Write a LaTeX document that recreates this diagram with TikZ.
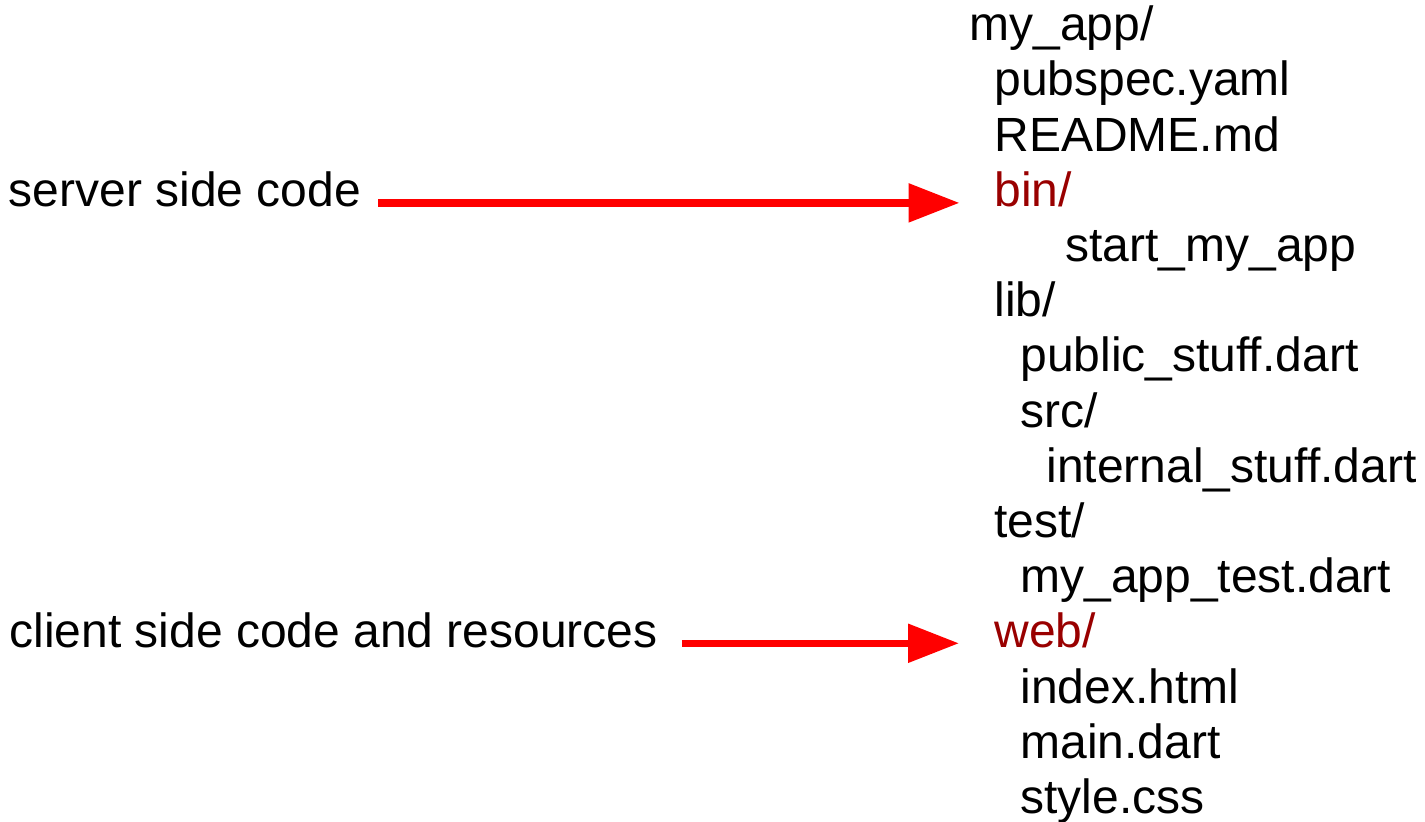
\documentclass[tikz,border=0pt]{standalone}
\usepackage{fontspec}
\setmainfont{Liberation Sans}
\usetikzlibrary{arrows.meta}
\definecolor{dirred}{RGB}{153,0,0}
\definecolor{arrowred}{RGB}{255,0,0}
\tikzset{
  entry/.style={anchor=base west, inner sep=0pt, font=\fontsize{24}{28}\selectfont},
  topdir/.style={entry, text=dirred},
  pointer/.style={-{Triangle[length=25.5pt, width=18.7pt]}, line width=3.7pt, draw=arrowred}
}

\begin{document}
\begin{tikzpicture}[x=0.5pt, y=-0.5pt]
  \useasboundingbox (0,0) rectangle (1425,822);
  % project tree
  \node[entry] (myapp) at (969,40.7) {my\_app/};
  \node[entry] (pubspec) at (994,95.9) {pubspec.yaml};
  \node[entry] (readme) at (994,151.1) {README.md};
  \node[topdir] (bin) at (994,206.3) {bin/};
  \node[entry] (start) at (1065,261.5) {start\_my\_app};
  \node[entry] (lib) at (994,316.7) {lib/};
  \node[entry] (public) at (1020,371.9) {public\_stuff.dart};
  \node[entry] (src) at (1020,427.1) {src/};
  \node[entry] (internal) at (1046,482.3) {internal\_stuff.dart};
  \node[entry] (test) at (994,537.5) {test/};
  \node[entry] (apptest) at (1020,592.7) {my\_app\_test.dart};
  \node[topdir] (web) at (994,647.9) {web/};
  \node[entry] (index) at (1020,703.1) {index.html};
  \node[entry] (maindart) at (1020,758.3) {main.dart};
  \node[entry] (stylecss) at (1020,813.5) {style.css};
  % notes
  \node[entry] (server) at (8.5,206.3) {server side code};
  \node[entry] (client) at (9,647.9) {client side code and resources};
  \draw[pointer, shorten <=8.5pt, shorten >=17.25pt] ([yshift=1.7pt]server.base east) -- ([yshift=1.7pt]bin.base west);
  \draw[pointer, shorten <=11.85pt, shorten >=17.5pt] ([yshift=2.3pt]client.base east) -- ([yshift=2.3pt]web.base west);
\end{tikzpicture}
\end{document}
